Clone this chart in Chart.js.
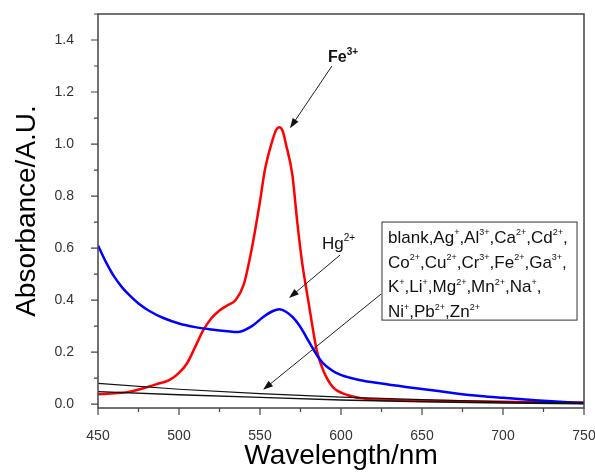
<!DOCTYPE html>
<html>
<head>
<meta charset="utf-8">
<script src="https://cdn.jsdelivr.net/npm/chart.js@4.4.1/dist/chart.umd.min.js"></script>
<style>
html, body { margin: 0; padding: 0; background: #fff; }
#wrap { width: 595px; height: 473px; }
</style>
</head>
<body>
<div id="wrap"><canvas id="grafica" width="595" height="473"></canvas></div>
<script>
// Fe3+ (red)
const feWave = [450, 460, 468, 478, 488, 494, 500, 505, 510, 515, 520, 525, 530, 535, 540, 545, 550, 553, 557, 560, 562, 564, 566, 570, 573, 576, 580, 583, 585, 589, 595, 604, 612, 620, 635, 650, 675, 700, 725, 750];
const feAbs  = [0.038, 0.042, 0.046, 0.061, 0.080, 0.092, 0.120, 0.157, 0.220, 0.284, 0.330, 0.360, 0.380, 0.400, 0.460, 0.600, 0.780, 0.900, 1.000, 1.055, 1.065, 1.050, 1.000, 0.880, 0.700, 0.545, 0.390, 0.275, 0.207, 0.130, 0.065, 0.035, 0.023, 0.018, 0.015, 0.013, 0.011, 0.009, 0.007, 0.006];

// Hg2+ (blue)
const hgWave = [450, 455, 460, 465, 470, 475, 482, 490, 500, 510, 520, 530, 536, 545, 552, 558, 562, 566, 570, 574, 577, 580, 583, 586, 589, 593, 597, 605, 612, 624, 640, 655, 670, 686, 700, 720, 735, 750];
const hgAbs  = [0.610, 0.545, 0.490, 0.448, 0.415, 0.387, 0.357, 0.332, 0.310, 0.296, 0.287, 0.280, 0.277, 0.300, 0.335, 0.358, 0.365, 0.355, 0.335, 0.305, 0.275, 0.242, 0.210, 0.180, 0.157, 0.136, 0.120, 0.102, 0.092, 0.080, 0.066, 0.054, 0.042, 0.031, 0.024, 0.015, 0.009, 0.004];

// blank + other ions (black)
const blankWave = [450, 500, 550, 600, 650, 700, 750];
const blankHigh = [0.080, 0.057, 0.040, 0.027, 0.017, 0.009, 0.004];
const blankLow  = [0.048, 0.036, 0.026, 0.016, 0.009, 0.004, 0.001];

// ticks
const xTicks = [450, 500, 550, 600, 650, 700, 750];
const xMinor = [475, 525, 575, 625, 675, 725];
const yTicks = [0.0, 0.2, 0.4, 0.6, 0.8, 1.0, 1.2, 1.4];
const yMinor = [0.1, 0.3, 0.5, 0.7, 0.9, 1.1, 1.3, 1.5];

const ionLines = [
    'blank,Ag^{+},Al^{3+},Ca^{2+},Cd^{2+},',
    'Co^{2+},Cu^{2+},Cr^{3+},Fe^{2+},Ga^{3+},',
    'K^{+},Li^{+},Mg^{2+},Mn^{2+},Na^{+},',
    'Ni^{+},Pb^{2+},Zn^{2+}'
];

const FONT = "'Liberation Sans', Arial, sans-serif";

function pts(xs, ys) {
    return xs.map((x, i) => ({ x: x, y: ys[i] }));
}

// text with ^{...} superscripts
function drawRich(ctx, x, y, str, size, weight, supScale) {
    const parts = str.split(/(\^\{[^}]*\})/);
    ctx.textBaseline = 'alphabetic';
    ctx.textAlign = 'left';
    parts.forEach(p => {
        if (!p) return;
        if (p.startsWith('^{')) {
            const t = p.slice(2, -1);
            ctx.font = weight + ' ' + Math.round(size * supScale) + 'px ' + FONT;
            ctx.fillText(t, x, y - size * 0.45);
            x += ctx.measureText(t).width;
        } else {
            ctx.font = weight + ' ' + size + 'px ' + FONT;
            ctx.fillText(p, x, y);
            x += ctx.measureText(p).width;
        }
    });
}

function arrow(ctx, x1, y1, x2, y2) {
    const a = Math.atan2(y2 - y1, x2 - x1);
    const len = 10, w = 3.5;
    ctx.beginPath();
    ctx.moveTo(x1, y1);
    ctx.lineTo(x2 - len * Math.cos(a) * 0.8, y2 - len * Math.sin(a) * 0.8);
    ctx.stroke();
    ctx.beginPath();
    ctx.moveTo(x2, y2);
    ctx.lineTo(x2 - len * Math.cos(a) + w * Math.sin(a), y2 - len * Math.sin(a) - w * Math.cos(a));
    ctx.lineTo(x2 - len * Math.cos(a) - w * Math.sin(a), y2 - len * Math.sin(a) + w * Math.cos(a));
    ctx.closePath();
    ctx.fill();
}

const extras = {
    id: 'extras',
    afterDraw(chart) {
        const ctx = chart.ctx;
        const xs = chart.scales.x, ys = chart.scales.y;
        const a = chart.chartArea;
        const X = v => xs.getPixelForValue(v);
        const Y = v => ys.getPixelForValue(v);
        ctx.save();

        // frame
        ctx.strokeStyle = '#444';
        ctx.lineWidth = 1.5;
        ctx.strokeRect(a.left, a.top, a.right - a.left, a.bottom - a.top);

        // tick marks (outside)
        ctx.lineWidth = 1.2;
        ctx.beginPath();
        xTicks.forEach(v => { ctx.moveTo(X(v), a.bottom); ctx.lineTo(X(v), a.bottom + 7); });
        xMinor.forEach(v => { ctx.moveTo(X(v), a.bottom); ctx.lineTo(X(v), a.bottom + 4); });
        yTicks.forEach(v => { ctx.moveTo(a.left, Y(v)); ctx.lineTo(a.left - 7, Y(v)); });
        yMinor.forEach(v => { ctx.moveTo(a.left, Y(v)); ctx.lineTo(a.left - 4, Y(v)); });
        ctx.stroke();

        // annotations
        ctx.fillStyle = '#111';
        ctx.strokeStyle = '#222';
        ctx.lineWidth = 1;
        drawRich(ctx, X(592), Y(1.315), 'Fe^{3+}', 16, 'bold', 0.6);
        arrow(ctx, X(594.4), Y(1.300), X(568.5), Y(1.061));

        drawRich(ctx, X(588.3), Y(0.596), 'Hg^{2+}', 17, 'normal', 0.6);
        arrow(ctx, X(599.4), Y(0.573), X(567.9), Y(0.408));

        // ion box
        const bx1 = X(625.3), by1 = Y(0.700), bx2 = X(745.7), by2 = Y(0.323);
        ctx.fillStyle = '#fff';
        ctx.fillRect(bx1, by1, bx2 - bx1, by2 - by1);
        ctx.strokeStyle = '#333';
        ctx.strokeRect(bx1, by1, bx2 - bx1, by2 - by1);
        ctx.fillStyle = '#111';
        ionLines.forEach((line, i) => {
            drawRich(ctx, bx1 + 6, by1 + 21 + i * 24.7, line, 17, 'normal', 0.55);
        });
        ctx.strokeStyle = '#222';
        arrow(ctx, X(624.7), Y(0.423), X(551.9), Y(0.055));

        ctx.restore();
    }
};

var ctx = document.getElementById('grafica').getContext('2d');
var myChart = new Chart(ctx, {
    type: 'line',
    data: {
        datasets: [{
            label: 'blank high',
            data: pts(blankWave, blankHigh),
            borderColor: '#111',
            borderWidth: 1.2
        }, {
            label: 'blank low',
            data: pts(blankWave, blankLow),
            borderColor: '#111',
            borderWidth: 1.4
        }, {
            label: 'Hg2+',
            data: pts(hgWave, hgAbs),
            borderColor: '#0000ff',
            borderWidth: 2.5,
            cubicInterpolationMode: 'monotone'
        }, {
            label: 'Fe3+',
            data: pts(feWave, feAbs),
            borderColor: '#ff0000',
            borderWidth: 2.5,
            cubicInterpolationMode: 'monotone'
        }]
    },
    options: {
        responsive: false,
        animation: false,
        elements: { point: { radius: 0 } },
        layout: { autoPadding: false, padding: { left: 0, top: 14, right: 11, bottom: 0 } },
        plugins: { legend: { display: false }, tooltip: { enabled: false } },
        scales: {
            x: {
                type: 'linear',
                min: 450,
                max: 750,
                grid: { display: false },
                border: { display: false },
                afterFit: s => {
                    s.height = 65;
                    s.paddingLeft = 0;
                    s.paddingRight = 0;
                },
                afterBuildTicks: s => { s.ticks = xTicks.map(v => ({ value: v })); },
                ticks: { padding: 12, color: '#333', font: { family: FONT, size: 14 }, maxRotation: 0 },
                title: {
                    display: true,
                    text: 'Wavelength/nm',
                    color: '#000',
                    font: { family: FONT, size: 28 },
                    padding: { top: 0, bottom: 0 }
                }
            },
            y: {
                min: -0.015,
                max: 1.5,
                grid: { display: false },
                border: { display: false },
                afterFit: s => {
                    s.width = 98;
                    s.paddingTop = 0;
                    s.paddingBottom = 0;
                },
                afterBuildTicks: s => { s.ticks = yTicks.map(v => ({ value: v })); },
                ticks: {
                    padding: 16,
                    color: '#333',
                    font: { family: FONT, size: 14 },
                    callback: v => v.toFixed(1)
                },
                title: {
                    display: true,
                    text: 'Absorbance/A.U.',
                    color: '#000',
                    font: { family: FONT, size: 28 },
                    padding: { top: 10, bottom: 0 }
                }
            }
        }
    },
    plugins: [extras]
});
</script>
</body>
</html>
